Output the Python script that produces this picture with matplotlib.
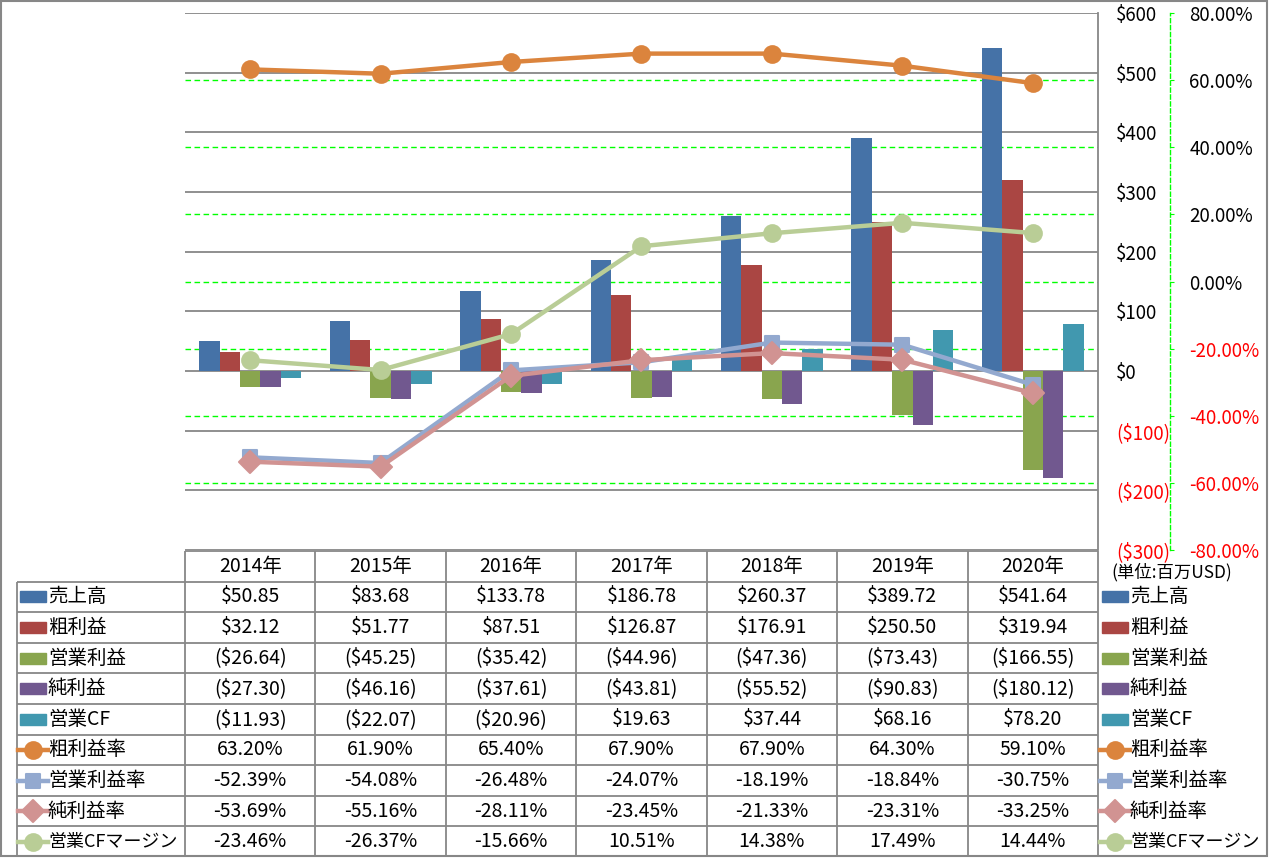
import numpy as np
import matplotlib
matplotlib.use('Agg')
import matplotlib.pyplot as plt
from matplotlib.markers import MarkerStyle
from matplotlib.patches import Rectangle

plt.rcParams['font.family'] = ['Noto Sans CJK JP', 'DejaVu Sans']

# data (unit: million USD / %)
years = ['2014年', '2015年', '2016年', '2017年', '2018年', '2019年', '2020年']
sales = [50.85, 83.68, 133.78, 186.78, 260.37, 389.72, 541.64]
gross_profit = [32.12, 51.77, 87.51, 126.87, 176.91, 250.50, 319.94]
op_income = [-26.64, -45.25, -35.42, -44.96, -47.36, -73.43, -166.55]
net_income = [-27.30, -46.16, -37.61, -43.81, -55.52, -90.83, -180.12]
op_cf = [-11.93, -22.07, -20.96, 19.63, 37.44, 68.16, 78.20]
gross_margin = [63.20, 61.90, 65.40, 67.90, 67.90, 64.30, 59.10]
op_margin = [-52.39, -54.08, -26.48, -24.07, -18.19, -18.84, -30.75]
net_margin = [-53.69, -55.16, -28.11, -23.45, -21.33, -23.31, -33.25]
cf_margin = [-23.46, -26.37, -15.66, 10.51, 14.38, 17.49, 14.44]

bar_names = ['売上高', '粗利益', '営業利益', '純利益', '営業CF']
line_names = ['粗利益率', '営業利益率', '純利益率', '営業CFマージン']
unit_note = '(単位:百万USD)'

bar_series = [sales, gross_profit, op_income, net_income, op_cf]
line_series = [gross_margin, op_margin, net_margin, cf_margin]
bar_colors = ['#4572A7', '#AA4643', '#89A54E', '#71588F', '#4198AF']
line_colors = ['#DB843D', '#93A9CF', '#D19392', '#B9CD96']
line_markers = [MarkerStyle('o'), MarkerStyle('s', joinstyle='round'),
                MarkerStyle('D', joinstyle='round'), MarkerStyle('o')]
marker_sizes = [12, 10.5, 11.5, 12]

GRAY = '#878787'
GREEN = '#00FF00'
FS = 14
AFS = 13.5

W, H = 1269, 858
fig = plt.figure(figsize=(W / 100, H / 100), dpi=100)
rect = [185 / W, 1 - 550 / H, (1098 - 185) / W, (550 - 13) / H]


def usd(v):
    return f'${v:,.2f}' if v >= 0 else f'(${-v:,.2f})'


def pct(v):
    return f'{v:.2f}%'


x = np.arange(len(years))

# green dashed grid for the % axis, kept under the bars
ax_bg = fig.add_axes(rect)
ax_bg.set_xlim(-0.5, len(years) - 0.5)
ax_bg.set_ylim(-80, 80)
ax_bg.set_yticks(np.arange(-60, 61, 20))
ax_bg.set_xticks([])
ax_bg.tick_params(length=0, labelleft=False)
ax_bg.grid(axis='y', color=GREEN, ls=(0, (4, 2.5)), lw=1)
for s in ax_bg.spines.values():
    s.set_visible(False)

# bars on the $ axis
ax = fig.add_axes(rect)
ax.patch.set_alpha(0)
bw = 0.156
for i, (vals, c) in enumerate(zip(bar_series, bar_colors)):
    ax.bar(x + (i - 2) * bw, vals, bw, color=c, zorder=2)
ax.set_xlim(-0.5, len(years) - 0.5)
ax.set_ylim(-300, 600)
ax.set_xticks([])
ax.grid(axis='y', color=GRAY, lw=1.3)
ax.set_axisbelow(True)

# margin lines on the % axis
axp = ax.twinx()
axp.patch.set_alpha(0)
for vals, c, m, ms in zip(line_series, line_colors, line_markers, marker_sizes):
    axp.plot(x, vals, color=c, lw=3.2, marker=m, ms=ms, mfc=c, mec=c, mew=1.5,
             solid_capstyle='round', zorder=3)
for k in ['top', 'left', 'bottom']:
    axp.spines[k].set_visible(False)
axp.spines['right'].set_position(('outward', 72 * 0.72))
axp.spines['right'].set_color(GREEN)
axp.spines['right'].set_linestyle((0, (3, 2)))
axp.spines['right'].set_linewidth(1)
axp.set_ylim(-80, 80)
pt = np.arange(-80, 81, 20)
axp.set_yticks(pt, labels=[pct(v) for v in pt])
axp.tick_params(axis='y', length=3, color=GREEN, pad=11, labelsize=AFS)
for t, v in zip(axp.yaxis.get_major_ticks(), pt):
    t.label2.set_color('red' if v < 0 else 'black')

# $ axis labels sit right of the plot area (twinx resets them to the left)
yt = np.arange(-300, 601, 100)
ax.set_yticks(yt, labels=[f'${v}' if v >= 0 else f'(${-v})' for v in yt])
ax.yaxis.tick_right()
ax.tick_params(axis='y', length=0, pad=13, labelsize=AFS)
for t, v in zip(ax.yaxis.get_major_ticks(), yt):
    t.label2.set_color('red' if v < 0 else 'black')
for k in ['top', 'left', 'bottom']:
    ax.spines[k].set_visible(False)
ax.spines['right'].set_visible(True)
ax.spines['right'].set_color(GRAY)
ax.spines['right'].set_linewidth(1.3)

# data table drawn in pixel coordinates
axt = fig.add_axes([0, 0, 1, 1])
axt.set_xlim(0, W)
axt.set_ylim(H, 0)
axt.axis('off')
axt.patch.set_alpha(0)

col_x = np.linspace(185, 1098, len(years) + 1)
row_y = np.linspace(551, 857, len(bar_names) + len(line_names) + 2)
col_c = (col_x[:-1] + col_x[1:]) / 2
row_c = (row_y[:-1] + row_y[1:]) / 2

axt.hlines(row_y[0], col_x[0], col_x[-1], color=GRAY, lw=1.3)
axt.hlines(row_y[1:-1], 17, col_x[-1], color=GRAY, lw=1.3)
axt.vlines(col_x, row_y[0], row_y[-1], color=GRAY, lw=1.3)
axt.vlines(17, row_y[1], row_y[-1], color=GRAY, lw=1.3)
axt.add_patch(Rectangle((1, 1), W - 3, H - 3, fill=False, ec=GRAY, lw=1.5))

for j, yr in enumerate(years):
    axt.text(col_c[j], row_c[0], yr, ha='center', va='center', fontsize=FS)

renderer = fig.canvas.get_renderer()
rows = [(n, vals, usd) for n, vals in zip(bar_names, bar_series)] + \
       [(n, vals, pct) for n, vals in zip(line_names, line_series)]
for r, (name, vals, fmt) in enumerate(rows):
    yc = row_c[r + 1]
    for j, v in enumerate(vals):
        axt.text(col_c[j], yc, fmt(v), ha='center', va='center', fontsize=FS)
    for kx, tx in [(20, 48), (1102, 1130)]:
        if r < len(bar_names):
            axt.add_patch(Rectangle((kx, yc - 5.5), 26, 11, color=bar_colors[r]))
        else:
            li = r - len(bar_names)
            axt.plot([kx - 2, kx + 28], [yc, yc], color=line_colors[li], lw=3.2)
            axt.plot(kx + 13, yc, color=line_colors[li], marker=line_markers[li],
                     ms=marker_sizes[li], mew=1.5)
        t = axt.text(tx, yc, name, ha='left', va='center', fontsize=FS)
        # shrink long names so they stay inside their cell
        wpx = t.get_window_extent(renderer).width
        if wpx > 130:
            t.set_fontsize(FS * 130 / wpx)

axt.text(1111, 572, unit_note, ha='left', va='center', fontsize=12.5)

fig.savefig('out.png', dpi=100)
